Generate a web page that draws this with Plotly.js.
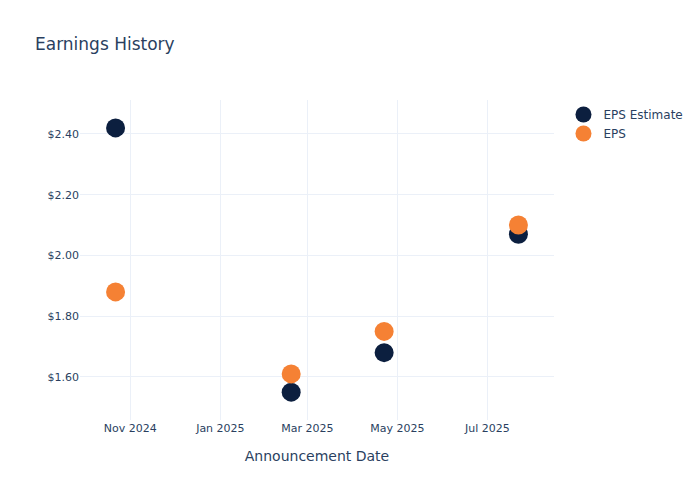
<!DOCTYPE html>
<html>
<head>
<script src="https://cdn.plot.ly/plotly-3.0.1.min.js"></script>
<style>body{margin:0;padding:0;}</style>
</head>
<body>
<div id="chart" style="width:700px;height:500px;"></div>
<script>
var dates = ["2024-10-22", "2025-02-18", "2025-04-22", "2025-07-22"];
var epsEstimate = [2.42, 1.55, 1.68, 2.07];
var epsActual = [1.88, 1.61, 1.75, 2.10];

var traces = [
  {x: dates, y: epsEstimate, name: "EPS Estimate", mode: "markers", type: "scatter",
   marker: {size: 19, color: "#0c1f3f"}},
  {x: dates, y: epsActual, name: "EPS", mode: "markers", type: "scatter",
   marker: {size: 19, color: "#f58134"}}
];

var layout = {
  width: 700, height: 500,
  template: "plotly_white",
  paper_bgcolor: "#ffffff", plot_bgcolor: "#ffffff",
  font: {family: "DejaVu Sans, sans-serif", color: "#2a3f5f", size: 12},
  title: {text: "Earnings History", x: 0.05, font: {size: 17}},
  margin: {l: 80, r: 80, t: 100, b: 80},
  xaxis: {title: {text: "Announcement Date", font: {size: 14}, standoff: 17}, automargin: true, type: "date",
          gridcolor: "#EBF0F8", showline: false, zeroline: false, tickfont: {size: 11}},
  yaxis: {tickprefix: "$", tickformat: ".2f", gridcolor: "#EBF0F8", showline: false, zeroline: false,
          tickfont: {size: 11}},
  legend: {font: {size: 12}}
};

Plotly.newPlot("chart", traces, layout, {displayModeBar: false});
</script>
</body>
</html>
